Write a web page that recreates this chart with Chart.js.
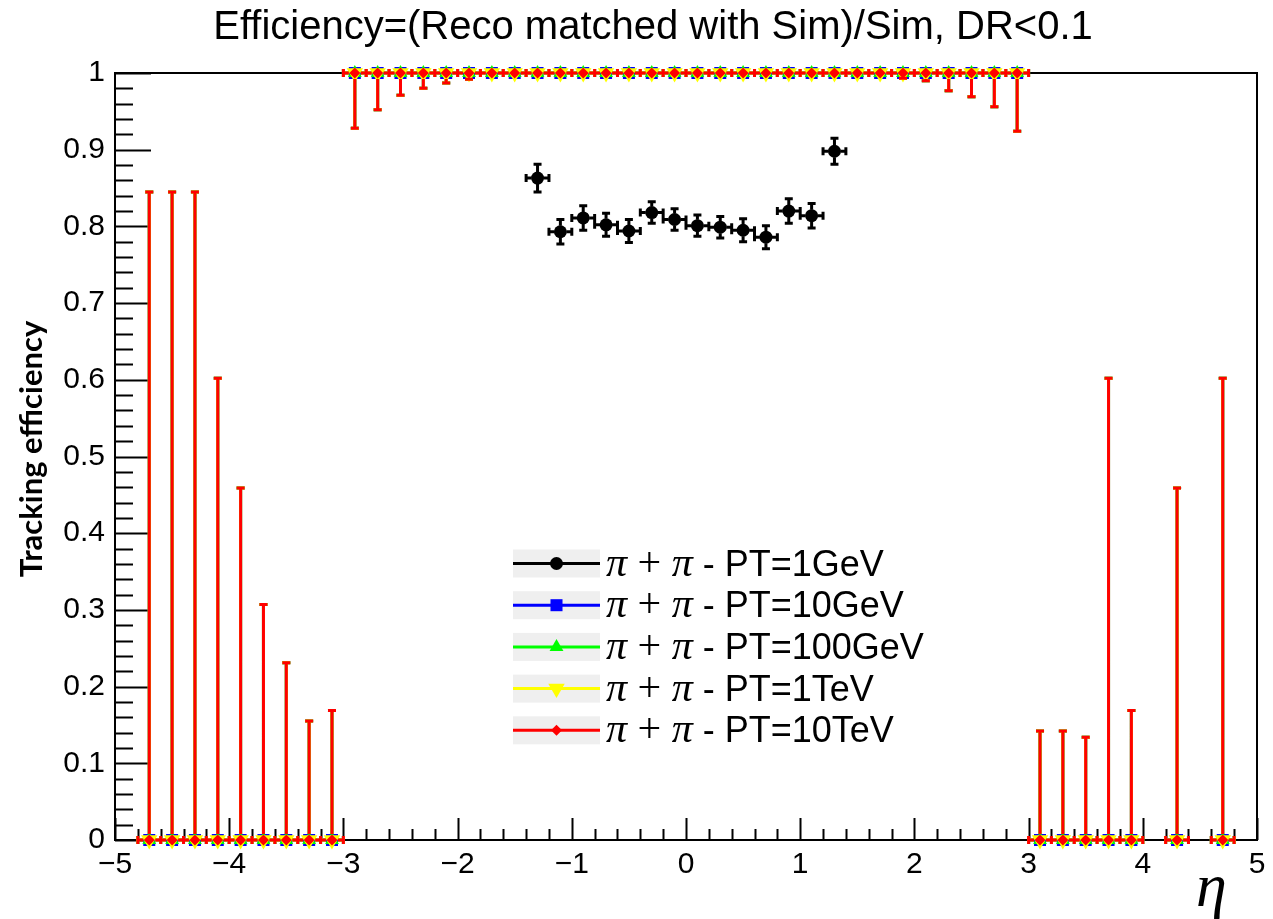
<!DOCTYPE html>
<html>
<head>
<meta charset="utf-8">
<script src="https://cdn.jsdelivr.net/npm/chart.js@4.4.0/dist/chart.umd.min.js"></script>
<style>
  html, body { margin: 0; padding: 0; background: #fff; }
  #wrap { width: 1273px; height: 919px; }
</style>
</head>
<body>
<div id="wrap"><canvas id="effChart" width="1273" height="919"></canvas></div>
<script>
// ---- data ----
const chartTitle = 'Efficiency=(Reco matched with Sim)/Sim, DR<0.1';
const yTitle = 'Tracking efficiency';
const xTitle = '\u03b7';
const etaBinHalfWidth = 0.1;

// pi+pi- PT=1GeV (only central bins are visible)
const eta1GeV = [-1.3, -1.1, -0.9, -0.7, -0.5, -0.3, -0.1, 0.1, 0.3, 0.5, 0.7, 0.9, 1.1, 1.3];
const eff1GeV = [0.863, 0.793, 0.811, 0.802, 0.794, 0.818, 0.809, 0.801, 0.799, 0.795, 0.786, 0.820, 0.814, 0.898];
const err1GeV = [0.018, 0.016, 0.016, 0.015, 0.015, 0.014, 0.014, 0.014, 0.014, 0.015, 0.015, 0.016, 0.016, 0.017];

// higher PT samples: all reconstructed for |eta|<3
const etaBarrel = [-2.9, -2.7, -2.5, -2.3, -2.1, -1.9, -1.7, -1.5, -1.3, -1.1, -0.9, -0.7, -0.5, -0.3, -0.1,
                   0.1, 0.3, 0.5, 0.7, 0.9, 1.1, 1.3, 1.5, 1.7, 1.9, 2.1, 2.3, 2.5, 2.7, 2.9];
const effBarrel = [1, 1, 1, 1, 1, 1, 1, 1, 1, 1, 1, 1, 1, 1, 1,
                   1, 1, 1, 1, 1, 1, 1, 1, 1, 1, 1, 1, 1, 1, 1];
const errLowBarrel = [0.072, 0.048, 0.029, 0.020, 0.013, 0.008, 0, 0, 0, 0, 0, 0, 0, 0, 0,
                      0, 0, 0, 0, 0, 0, 0, 0, 0, 0.007, 0.010, 0.023, 0.031, 0.044, 0.076];
const errUpBarrel = [0, 0, 0, 0, 0, 0, 0, 0, 0, 0, 0, 0, 0, 0, 0,
                     0, 0, 0, 0, 0, 0, 0, 0, 0, 0, 0, 0, 0, 0, 0];

// forward bins: nothing reconstructed, large upper errors
const etaForward = [-4.7, -4.5, -4.3, -4.1, -3.9, -3.7, -3.5, -3.3, -3.1, 3.1, 3.3, 3.5, 3.7, 3.9, 4.3, 4.7];
const effForward = [0, 0, 0, 0, 0, 0, 0, 0, 0, 0, 0, 0, 0, 0, 0, 0];
const errLowForward = [0, 0, 0, 0, 0, 0, 0, 0, 0, 0, 0, 0, 0, 0, 0, 0];
const errUpForward = [0.845, 0.845, 0.845, 0.602, 0.459, 0.307, 0.231, 0.155, 0.169,
                      0.142, 0.142, 0.134, 0.602, 0.169, 0.459, 0.602];

const seriesLabels = ['\u03c0 + \u03c0 - PT=1GeV', '\u03c0 + \u03c0 - PT=10GeV', '\u03c0 + \u03c0 - PT=100GeV',
                      '\u03c0 + \u03c0 - PT=1TeV', '\u03c0 + \u03c0 - PT=10TeV'];
const seriesColors = ['#000000', '#0000ff', '#00ff00', '#ffff00', '#ff0000'];

// ---- build datasets ----
function toPoints(xs, ys) {
  return xs.map((x, i) => ({ x: x, y: ys[i] }));
}
const highPtPoints = toPoints(etaBarrel, effBarrel).concat(toPoints(etaForward, effForward));
const highPtLow = errLowBarrel.concat(errLowForward);
const highPtUp = errUpBarrel.concat(errUpForward);

const markerStyles = [
  { pointStyle: 'circle', radius: 6.5, rotation: 0 },
  { pointStyle: 'rect', radius: 8.5, rotation: 0 },
  { pointStyle: 'triangle', radius: 8, rotation: 0 },
  { pointStyle: 'triangle', radius: 9.5, rotation: 180 },
  { pointStyle: 'rectRot', radius: 5.5, rotation: 0 }
];

const datasets = seriesLabels.map((label, k) => {
  const isLow = k === 0;
  return {
    label: label,
    data: isLow ? toPoints(eta1GeV, eff1GeV) : highPtPoints,
    errLow: isLow ? err1GeV : highPtLow,
    errUp: isLow ? err1GeV : highPtUp,
    showLine: false,
    clip: false,
    order: 4 - k,
    legendRank: k,
    pointStyle: markerStyles[k].pointStyle,
    pointRadius: markerStyles[k].radius,
    pointRotation: markerStyles[k].rotation,
    pointBorderWidth: 0,
    pointBackgroundColor: seriesColors[k],
    pointBorderColor: seriesColors[k],
    backgroundColor: seriesColors[k],
    borderColor: seriesColors[k]
  };
});

// ---- ROOT-like frame, inward ticks, error bars, legend ----
const rootStyle = {
  id: 'rootStyle',
  beforeDatasetsDraw(chart) {
    const ctx = chart.ctx;
    const { left, right, top, bottom } = chart.chartArea;
    const xs = chart.scales.x, ys = chart.scales.y;
    ctx.save();
    ctx.strokeStyle = '#000';
    ctx.lineWidth = 2;
    ctx.strokeRect(left, top, right - left, bottom - top);
    ctx.beginPath();
    for (let i = -25; i <= 25; i++) {
      const px = Math.round(xs.getPixelForValue(i / 5)) + 0.5;
      const len = i % 5 === 0 ? 22 : 11;
      ctx.moveTo(px, bottom);
      ctx.lineTo(px, bottom - len);
    }
    for (let j = 0; j <= 50; j++) {
      const py = Math.round(ys.getPixelForValue(j / 50)) + 0.5;
      const len = j % 5 === 0 ? 36 : 18;
      ctx.moveTo(left, py);
      ctx.lineTo(left + len, py);
    }
    ctx.stroke();
    ctx.restore();
  },
  beforeDatasetDraw(chart, args) {
    const ds = chart.data.datasets[args.index];
    const ctx = chart.ctx;
    const xs = chart.scales.x, ys = chart.scales.y;
    const cap = 4;
    const gap = 6;
    ctx.save();
    ctx.strokeStyle = ds.borderColor;
    ctx.lineWidth = 3;
    ctx.beginPath();
    ds.data.forEach((p, i) => {
      const px = xs.getPixelForValue(p.x);
      const py = ys.getPixelForValue(p.y);
      const xl = xs.getPixelForValue(p.x - etaBinHalfWidth);
      const xr = xs.getPixelForValue(p.x + etaBinHalfWidth);
      ctx.moveTo(xl, py); ctx.lineTo(px - gap, py);
      ctx.moveTo(px + gap, py); ctx.lineTo(xr, py);
      ctx.moveTo(xl, py - cap); ctx.lineTo(xl, py + cap);
      ctx.moveTo(xr, py - cap); ctx.lineTo(xr, py + cap);
      if (ds.errLow[i] > 0) {
        const yb = ys.getPixelForValue(p.y - ds.errLow[i]);
        if (yb - py > gap) { ctx.moveTo(px, py + gap); ctx.lineTo(px, yb); }
        ctx.moveTo(px - cap, yb); ctx.lineTo(px + cap, yb);
      }
      if (ds.errUp[i] > 0) {
        const yt = ys.getPixelForValue(p.y + ds.errUp[i]);
        if (py - yt > gap) { ctx.moveTo(px, py - gap); ctx.lineTo(px, yt); }
        ctx.moveTo(px - cap, yt); ctx.lineTo(px + cap, yt);
      }
    });
    ctx.stroke();
    ctx.restore();
  },
  afterDraw(chart) {
    const ctx = chart.ctx;
    ctx.save();
    ctx.fillStyle = '#000';
    // title
    ctx.font = '40px "Liberation Sans", Arial, sans-serif';
    ctx.textAlign = 'center';
    ctx.textBaseline = 'alphabetic';
    ctx.fillText(chartTitle, 653, 39);
    // y title
    ctx.save();
    ctx.translate(42, 449);
    ctx.rotate(-Math.PI / 2);
    ctx.font = 'bold 31px Lato, "Liberation Sans", sans-serif';
    ctx.fillText(yTitle, 0, 0);
    ctx.restore();
    // x title
    ctx.font = 'italic 62px "Liberation Serif", serif';
    ctx.textAlign = 'left';
    ctx.fillText(xTitle, 1196, 906);

    // legend
    const rows = chart.data.datasets.slice().sort((a, b) => a.legendRank - b.legendRank);
    rows.forEach((ds, r) => {
      const cy = 563.5 + r * 41.7;
      ctx.fillStyle = '#efefef';
      ctx.fillRect(513, cy - 14, 87, 28);
      ctx.strokeStyle = ds.borderColor;
      ctx.lineWidth = 3;
      ctx.beginPath();
      ctx.moveTo(513, cy); ctx.lineTo(600, cy);
      ctx.stroke();
      ctx.fillStyle = ds.backgroundColor;
      Chart.helpers.drawPoint(ctx, {
        pointStyle: ds.pointStyle, radius: ds.pointRadius,
        rotation: ds.pointRotation, borderWidth: 0
      }, 556.5, cy);
      // label: italic serif pi, serif plus, sans rest
      ctx.fillStyle = '#000';
      ctx.textAlign = 'left';
      let x = 606;
      const parts = ds.label.match(/\u03c0|[^\u03c0]+/g);
      parts.forEach(part => {
        if (part === '\u03c0') ctx.font = 'italic 42px "Liberation Serif", serif';
        else if (part.indexOf('PT') >= 0) ctx.font = '36px "Liberation Sans", Arial, sans-serif';
        else ctx.font = '42px "Liberation Serif", serif';
        ctx.fillText(part, x, cy + 12);
        x += ctx.measureText(part).width;
      });
    });
    ctx.restore();
  }
};

const ctx = document.getElementById('effChart').getContext('2d');
const effChart = new Chart(ctx, {
  type: 'scatter',
  data: { datasets: datasets },
  options: {
    responsive: false,
    animation: false,
    devicePixelRatio: 1,
    events: [],
    layout: { padding: { top: 73, right: 16, bottom: 0, left: 0 } },
    plugins: {
      legend: { display: false },
      tooltip: { enabled: false },
      title: { display: false }
    },
    scales: {
      x: {
        type: 'linear',
        min: -5,
        max: 5,
        grid: { display: false, drawTicks: false, tickLength: 0 },
        border: { display: false },
        ticks: {
          stepSize: 1,
          autoSkip: false,
          maxRotation: 0,
          padding: 7,
          color: '#000',
          font: { family: '"Liberation Sans", Arial, sans-serif', size: 30 },
          callback: v => String(v).replace('-', '\u2212')
        },
        afterFit: s => { s.height = 79; }
      },
      y: {
        min: 0,
        max: 1,
        grid: { display: false, drawTicks: false, tickLength: 0 },
        border: { display: false },
        ticks: {
          stepSize: 0.1,
          padding: 10,
          color: '#000',
          font: { family: '"Liberation Sans", Arial, sans-serif', size: 30 },
          callback: v => String(Number(v.toFixed(1)))
        },
        afterFit: s => { s.width = 115; }
      }
    }
  },
  plugins: [rootStyle]
});
</script>
</body>
</html>
